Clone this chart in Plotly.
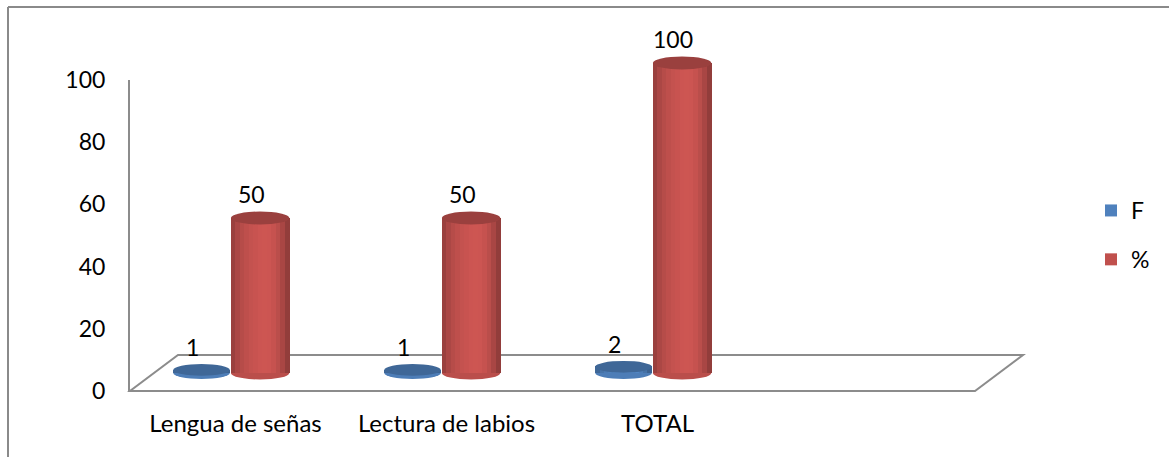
import plotly.graph_objects as go

# --- data ---
categories = ["Lengua de señas", "Lectura de labios", "TOTAL"]
series_names = ["F", "%"]
freq_values = [1, 1, 2]
pct_values = [50, 50, 100]
y_ticks = [0, 20, 40, 60, 80, 100]

W, H = 1169, 457
FONT = "Lato"
BASE_COLORS = {"F": (79, 129, 189), "%": (192, 80, 77)}
GRID_GREY = "#8C8C8C"

# horizontal placement of each series inside a category slot (axis units)
series_geom = {"F": (-0.295, 0.268), "%": (-0.022, 0.277)}
# shading across the width of a cylinder (left -> right)
shade_profile = [0.80, 0.89, 0.95, 0.99, 1.02, 1.04, 1.06, 1.07, 1.06, 1.03, 0.97, 0.88, 0.76]
ELL_HALF = {"F": 1.9, "%": 2.1}  # half-height of the end ellipses in value units


def px_x(p):
    return p / W


def px_y(p):
    return 1 - p / H


def rgb(c, f=1.0):
    r, g, b = (max(0, min(255, int(round(v * f)))) for v in c)
    return f"rgb({r},{g},{b})"


# value axis for the bars: 3.1 px per unit, base sits mid-depth on the floor
BAR_SCALE = 3.1
BAR_BASE_PX = 373
bar_range = [-10, 106]
bar_dom = [px_y(BAR_BASE_PX - bar_range[0] * BAR_SCALE), px_y(BAR_BASE_PX - bar_range[1] * BAR_SCALE)]

fig = go.Figure()
shapes = []
annotations = []

# the value-axis subplot (ticks 0..100 on the back wall)
fig.add_trace(go.Scatter(x=[], y=[], xaxis="x", yaxis="y", showlegend=False,
                         hoverinfo="skip", mode="markers"))

xs = list(range(len(categories)))
for name, vals in (("F", freq_values), ("%", pct_values)):
    off, wid = series_geom[name]
    base = BASE_COLORS[name]
    # series bar (legend entry), covered by the shaded strips
    fig.add_trace(go.Bar(
        x=xs, y=vals, name=name, offset=off, width=wid,
        marker=dict(color=rgb(base), line=dict(width=0)),
        xaxis="x", yaxis="y2", legendgroup=name, showlegend=True,
        hoverinfo="skip",
    ))
    n = len(shade_profile)
    sw = wid / n
    for k, f in enumerate(shade_profile):
        fig.add_trace(go.Bar(
            x=xs, y=vals, offset=off + k * sw, width=sw * 1.08,
            marker=dict(color=rgb(base, f), line=dict(width=0)),
            xaxis="x", yaxis="y2", legendgroup=name, showlegend=False,
            hoverinfo="skip",
        ))
    h = ELL_HALF[name]
    for i, v in zip(xs, vals):
        # bottom rim of the cylinder
        shapes.append(dict(type="circle", xref="x", yref="y2",
                           x0=i + off, x1=i + off + wid, y0=-h, y1=h,
                           fillcolor=rgb(base, 0.97), line=dict(width=0), layer="below"))
        # top face
        shapes.append(dict(type="circle", xref="x", yref="y2",
                           x0=i + off, x1=i + off + wid, y0=v - h, y1=v + h,
                           fillcolor=rgb(base, 0.80), line=dict(width=0), layer="above"))
        annotations.append(dict(x=i + off + wid / 2, y=v + h, xref="x", yref="y2",
                                text=str(v), showarrow=False, yanchor="bottom",
                                xshift=-9, yshift=1,
                                font=dict(family=FONT, size=23, color="black")))

# floor of the 3-D plot area
floor_path = (f"M {px_x(130)} {px_y(391)} L {px_x(975)} {px_y(391)} "
              f"L {px_x(1023)} {px_y(355)} L {px_x(178)} {px_y(355)} Z")
shapes.append(dict(type="path", xref="paper", yref="paper", path=floor_path,
                   line=dict(color=GRID_GREY, width=2), layer="below"))
# chart frame (top and left edges visible)
shapes.append(dict(type="line", xref="paper", yref="paper",
                   x0=px_x(8), x1=1.01, y0=px_y(7), y1=px_y(7),
                   line=dict(color="#8A8A8A", width=2)))
shapes.append(dict(type="line", xref="paper", yref="paper",
                   x0=px_x(8), x1=px_x(8), y0=px_y(7), y1=-0.01,
                   line=dict(color="#8A8A8A", width=2)))

fig.update_layout(
    width=W, height=H,
    margin=dict(l=0, r=0, t=0, b=0, autoexpand=False),
    paper_bgcolor="white", plot_bgcolor="rgba(0,0,0,0)",
    barmode="overlay", bargap=0,
    font=dict(family=FONT, size=23, color="black"),
    xaxis=dict(domain=[px_x(130), px_x(974)], range=[-0.5, 3.5],
               tickvals=xs, ticktext=categories, showgrid=False, zeroline=False,
               showline=False, ticks="", ticklabelstandoff=16, anchor="y",
               tickfont=dict(family=FONT, size=24), fixedrange=True, automargin=False),
    yaxis=dict(domain=[px_y(391), px_y(80)], range=[0, 100], tickvals=y_ticks,
               showgrid=False, zeroline=False, showline=True, linecolor=GRID_GREY,
               linewidth=2, ticks="", ticklabelstandoff=18, anchor="x",
               fixedrange=True, automargin=False),
    yaxis2=dict(domain=bar_dom, range=bar_range, visible=False,
                anchor="x", fixedrange=True, automargin=False),
    legend=dict(x=px_x(1091), y=px_y(189), xanchor="left", yanchor="top",
                bgcolor="rgba(0,0,0,0)", borderwidth=0, tracegroupgap=16,
                itemwidth=30, traceorder="grouped", font=dict(family=FONT, size=23)),
    shapes=shapes,
    annotations=annotations,
    showlegend=True,
)

fig.write_html("out.html")
